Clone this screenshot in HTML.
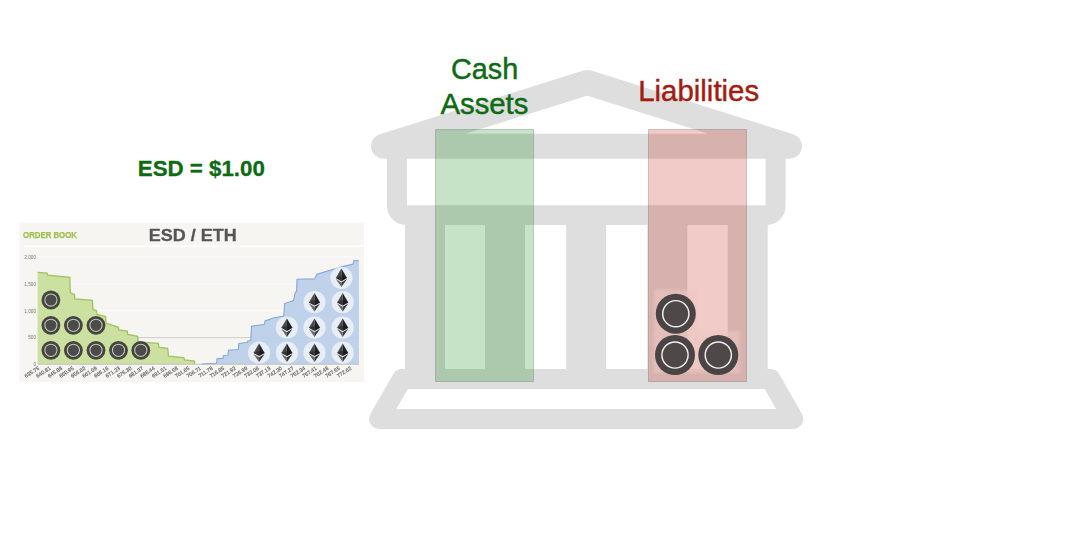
<!DOCTYPE html>
<html>
<head>
<meta charset="utf-8">
<title>ESD balance sheet</title>
<style>html,body{margin:0;padding:0;background:#fff;width:1080px;height:548px;overflow:hidden;font-family:"Liberation Sans",sans-serif}</style>
</head>
<body>
<svg width="1080" height="548" viewBox="0 0 1080 548" style="display:block;position:absolute;left:0;top:0">
<rect width="1080" height="548" fill="#ffffff"/>
<g fill="none" stroke="#dedede" stroke-linejoin="round" stroke-linecap="round">
<path d="M383.5,146.2 L587.3,82.5 L789.5,146.2 Z" stroke-width="25"/>
<path d="M387,150 L387,206 A19,19 0 0 0 406,225 L766.6,225 A19,19 0 0 0 785.6,206 L785.6,150 Z M407,150 L407,205.2 L765.6,205.2 L765.6,150 Z" fill="#dedede" fill-rule="evenodd" stroke="none"/>
<path d="M402,379 L770.5,379 L793.3,419 L379,419 Z" stroke-width="20"/>
</g>
<rect x="405" y="224" width="40" height="146" fill="#dedede"/>
<rect x="485" y="224" width="40" height="146" fill="#dedede"/>
<rect x="566.2" y="224" width="40" height="146" fill="#dedede"/>
<rect x="647.3" y="224" width="40" height="146" fill="#dedede"/>
<rect x="727.7" y="224" width="40" height="146" fill="#dedede"/>
<rect x="435.5" y="129.5" width="98" height="252" fill="rgb(0,128,0)" fill-opacity="0.22" stroke="#404040" stroke-opacity="0.24" stroke-width="1"/>
<rect x="648.5" y="129.5" width="98" height="252" fill="rgb(192,32,16)" fill-opacity="0.23" stroke="#404040" stroke-opacity="0.24" stroke-width="1"/>
<g filter="url(#halo)"><rect x="654.3" y="289.7" width="43" height="42" fill="#efc6c2" fill-opacity="0.6"/><rect x="653.5" y="331" width="43" height="42" fill="#efc6c2" fill-opacity="0.6"/><rect x="696.8" y="331" width="43" height="42" fill="#efc6c2" fill-opacity="0.6"/></g>
<circle cx="675.8" cy="313.7" r="20" fill="#4a4445"/><circle cx="675.8" cy="313.7" r="13.1" fill="#4e4849" stroke="#f4f0f0" stroke-width="1.45"/>
<circle cx="675" cy="355" r="20" fill="#4a4445"/><circle cx="675" cy="355" r="13.1" fill="#4e4849" stroke="#f4f0f0" stroke-width="1.45"/>
<circle cx="718.3" cy="355" r="20" fill="#4a4445"/><circle cx="718.3" cy="355" r="13.1" fill="#4e4849" stroke="#f4f0f0" stroke-width="1.45"/>
<g font-family="'Liberation Sans', sans-serif">
<text x="484.6" y="79.3" font-size="28.8" fill="#0d6b13" stroke="#0d6b13" stroke-width="0.45" text-anchor="middle">Cash</text>
<text x="484.4" y="114.2" font-size="29.3" fill="#0d6b13" stroke="#0d6b13" stroke-width="0.45" text-anchor="middle">Assets</text>
<text x="698.7" y="100.6" font-size="29.4" fill="#a21d0f" stroke="#a21d0f" stroke-width="0.45" text-anchor="middle">Liabilities</text>
<text x="201.3" y="175.5" font-size="22.3" font-weight="bold" fill="#0d6b13" stroke="#0d6b13" stroke-width="0.3" text-anchor="middle">ESD = $1.00</text>
</g>
<g id="chart" filter="url(#soft)">
<rect x="19.3" y="222.4" width="344.7" height="159.6" fill="#f6f5f2"/>
<rect x="24" y="245.4" width="340" height="1.7" fill="#fdfdfb"/>
<line x1="38" y1="257" x2="359" y2="257" stroke="#fcfcfa" stroke-width="1.2"/>
<line x1="38" y1="284" x2="359" y2="284" stroke="#fcfcfa" stroke-width="1.2"/>
<line x1="38" y1="310.6" x2="359" y2="310.6" stroke="#fcfcfa" stroke-width="1.2"/>
<line x1="38" y1="337.6" x2="359" y2="337.6" stroke="#c3c3c0" stroke-width="0.8"/>
<polygon points="37.6,364 37.6,272.4 47,273.2 47.6,275.2 69.8,277.3 70.3,292.8 74.5,294.4 74.8,298.8 92.3,300.4 93,309.6 96.5,310.6 97,314.5 105.6,316.6 106,323 118.5,327.3 119,330 127.3,331 127.7,334.5 137.7,336.3 138.2,342 158.3,343.4 159,347.3 167.7,348.4 168.5,356.2 183.8,357.5 184.6,360 194.3,361.2 194.8,364" fill="#cbe0a1"/>
<polyline points="37.6,272.4 47,273.2 47.6,275.2 69.8,277.3 70.3,292.8 74.5,294.4 74.8,298.8 92.3,300.4 93,309.6 96.5,310.6 97,314.5 105.6,316.6 106,323 118.5,327.3 119,330 127.3,331 127.7,334.5 137.7,336.3 138.2,342 158.3,343.4 159,347.3 167.7,348.4 168.5,356.2 183.8,357.5 184.6,360 194.3,361.2 194.8,364" fill="none" stroke="#a0c35a" stroke-width="1.3"/>
<polygon points="201.5,364 216.6,363.2 217,358.8 223,358.4 223.4,355.5 228,355.2 228.4,350.3 238.4,349.6 238.8,343.4 247.4,342.6 247.7,340.9 250.8,340.6 251.5,326.3 264.5,324.3 265,321 273.2,318 283.8,316 284.6,303.6 293.5,300.5 295.3,292.3 296.6,291.5 297,279.2 314.6,278.9 316.9,274.2 332.4,269.6 343.4,266.4 353.2,264 353.8,260.8 359,260.7 359,364" fill="#bacfe9" fill-opacity="0.93"/>
<polyline points="201.5,364 216.6,363.2 217,358.8 223,358.4 223.4,355.5 228,355.2 228.4,350.3 238.4,349.6 238.8,343.4 247.4,342.6 247.7,340.9 250.8,340.6 251.5,326.3 264.5,324.3 265,321 273.2,318 283.8,316 284.6,303.6 293.5,300.5 295.3,292.3 296.6,291.5 297,279.2 314.6,278.9 316.9,274.2 332.4,269.6 343.4,266.4 353.2,264 353.8,260.8 359,260.7" fill="none" stroke="#86a8d6" stroke-width="1.1"/>
<line x1="38" y1="364.3" x2="359" y2="364.3" stroke="#b9b9b4" stroke-width="0.8"/>
<g font-family="'Liberation Sans', sans-serif">
<text x="23.1" y="237.8" font-size="8.3" font-weight="bold" fill="#9cc04f" stroke="#9cc04f" stroke-width="0.25" textLength="53.8" lengthAdjust="spacingAndGlyphs">ORDER BOOK</text>
<text x="148.8" y="240.6" font-size="16.8" font-weight="bold" fill="#555555" stroke="#555555" stroke-width="0.3" textLength="88" lengthAdjust="spacingAndGlyphs">ESD / ETH</text>
<text x="36" y="258.6" font-size="4.7" fill="#707070" text-anchor="end">2,000</text>
<text x="36" y="285.6" font-size="4.7" fill="#707070" text-anchor="end">1,500</text>
<text x="36" y="312.6" font-size="4.7" fill="#707070" text-anchor="end">1,000</text>
<text x="36" y="339.1" font-size="4.7" fill="#707070" text-anchor="end">500</text>
<text x="36" y="365.6" font-size="4.7" fill="#707070" text-anchor="end">0</text>
<text transform="translate(39.60,369.2) rotate(-33)" font-size="5.3" fill="#666666" stroke="#666666" stroke-width="0.18" text-anchor="end">635.75</text>
<text transform="translate(51.17,369.2) rotate(-33)" font-size="5.3" fill="#666666" stroke="#666666" stroke-width="0.18" text-anchor="end">640.81</text>
<text transform="translate(62.74,369.2) rotate(-33)" font-size="5.3" fill="#666666" stroke="#666666" stroke-width="0.18" text-anchor="end">645.88</text>
<text transform="translate(74.31,369.2) rotate(-33)" font-size="5.3" fill="#666666" stroke="#666666" stroke-width="0.18" text-anchor="end">650.95</text>
<text transform="translate(85.88,369.2) rotate(-33)" font-size="5.3" fill="#666666" stroke="#666666" stroke-width="0.18" text-anchor="end">656.02</text>
<text transform="translate(97.45,369.2) rotate(-33)" font-size="5.3" fill="#666666" stroke="#666666" stroke-width="0.18" text-anchor="end">661.09</text>
<text transform="translate(109.02,369.2) rotate(-33)" font-size="5.3" fill="#666666" stroke="#666666" stroke-width="0.18" text-anchor="end">666.16</text>
<text transform="translate(120.59,369.2) rotate(-33)" font-size="5.3" fill="#666666" stroke="#666666" stroke-width="0.18" text-anchor="end">671.23</text>
<text transform="translate(132.16,369.2) rotate(-33)" font-size="5.3" fill="#666666" stroke="#666666" stroke-width="0.18" text-anchor="end">676.30</text>
<text transform="translate(143.73,369.2) rotate(-33)" font-size="5.3" fill="#666666" stroke="#666666" stroke-width="0.18" text-anchor="end">681.37</text>
<text transform="translate(155.30,369.2) rotate(-33)" font-size="5.3" fill="#666666" stroke="#666666" stroke-width="0.18" text-anchor="end">686.44</text>
<text transform="translate(166.87,369.2) rotate(-33)" font-size="5.3" fill="#666666" stroke="#666666" stroke-width="0.18" text-anchor="end">691.51</text>
<text transform="translate(178.44,369.2) rotate(-33)" font-size="5.3" fill="#666666" stroke="#666666" stroke-width="0.18" text-anchor="end">696.58</text>
<text transform="translate(190.01,369.2) rotate(-33)" font-size="5.3" fill="#666666" stroke="#666666" stroke-width="0.18" text-anchor="end">701.65</text>
<text transform="translate(201.58,369.2) rotate(-33)" font-size="5.3" fill="#666666" stroke="#666666" stroke-width="0.18" text-anchor="end">706.71</text>
<text transform="translate(213.15,369.2) rotate(-33)" font-size="5.3" fill="#666666" stroke="#666666" stroke-width="0.18" text-anchor="end">711.78</text>
<text transform="translate(224.72,369.2) rotate(-33)" font-size="5.3" fill="#666666" stroke="#666666" stroke-width="0.18" text-anchor="end">716.85</text>
<text transform="translate(236.29,369.2) rotate(-33)" font-size="5.3" fill="#666666" stroke="#666666" stroke-width="0.18" text-anchor="end">721.92</text>
<text transform="translate(247.86,369.2) rotate(-33)" font-size="5.3" fill="#666666" stroke="#666666" stroke-width="0.18" text-anchor="end">726.99</text>
<text transform="translate(259.43,369.2) rotate(-33)" font-size="5.3" fill="#666666" stroke="#666666" stroke-width="0.18" text-anchor="end">732.06</text>
<text transform="translate(271.00,369.2) rotate(-33)" font-size="5.3" fill="#666666" stroke="#666666" stroke-width="0.18" text-anchor="end">737.13</text>
<text transform="translate(282.57,369.2) rotate(-33)" font-size="5.3" fill="#666666" stroke="#666666" stroke-width="0.18" text-anchor="end">742.20</text>
<text transform="translate(294.14,369.2) rotate(-33)" font-size="5.3" fill="#666666" stroke="#666666" stroke-width="0.18" text-anchor="end">747.27</text>
<text transform="translate(305.71,369.2) rotate(-33)" font-size="5.3" fill="#666666" stroke="#666666" stroke-width="0.18" text-anchor="end">752.34</text>
<text transform="translate(317.28,369.2) rotate(-33)" font-size="5.3" fill="#666666" stroke="#666666" stroke-width="0.18" text-anchor="end">757.41</text>
<text transform="translate(328.85,369.2) rotate(-33)" font-size="5.3" fill="#666666" stroke="#666666" stroke-width="0.18" text-anchor="end">762.48</text>
<text transform="translate(340.42,369.2) rotate(-33)" font-size="5.3" fill="#666666" stroke="#666666" stroke-width="0.18" text-anchor="end">767.55</text>
<text transform="translate(351.99,369.2) rotate(-33)" font-size="5.3" fill="#666666" stroke="#666666" stroke-width="0.18" text-anchor="end">772.62</text>
</g>
<circle cx="50.9" cy="300" r="9.4" fill="#44443e"/><circle cx="50.9" cy="300" r="6.1" fill="#4c4c48" stroke="#c4c4c4" stroke-width="1.05"/>
<circle cx="50.9" cy="325.3" r="9.4" fill="#44443e"/><circle cx="50.9" cy="325.3" r="6.1" fill="#4c4c48" stroke="#c4c4c4" stroke-width="1.05"/>
<circle cx="73.4" cy="325.3" r="9.4" fill="#44443e"/><circle cx="73.4" cy="325.3" r="6.1" fill="#4c4c48" stroke="#c4c4c4" stroke-width="1.05"/>
<circle cx="96" cy="325.3" r="9.4" fill="#44443e"/><circle cx="96" cy="325.3" r="6.1" fill="#4c4c48" stroke="#c4c4c4" stroke-width="1.05"/>
<circle cx="50.9" cy="350.3" r="9.4" fill="#44443e"/><circle cx="50.9" cy="350.3" r="6.1" fill="#4c4c48" stroke="#c4c4c4" stroke-width="1.05"/>
<circle cx="73.4" cy="350.3" r="9.4" fill="#44443e"/><circle cx="73.4" cy="350.3" r="6.1" fill="#4c4c48" stroke="#c4c4c4" stroke-width="1.05"/>
<circle cx="96" cy="350.3" r="9.4" fill="#44443e"/><circle cx="96" cy="350.3" r="6.1" fill="#4c4c48" stroke="#c4c4c4" stroke-width="1.05"/>
<circle cx="118.5" cy="350.3" r="9.4" fill="#44443e"/><circle cx="118.5" cy="350.3" r="6.1" fill="#4c4c48" stroke="#c4c4c4" stroke-width="1.05"/>
<circle cx="140.8" cy="350.3" r="9.4" fill="#44443e"/><circle cx="140.8" cy="350.3" r="6.1" fill="#4c4c48" stroke="#c4c4c4" stroke-width="1.05"/>
<g transform="translate(341.4,277.8)"><circle r="11.1" fill="#ffffff" fill-opacity="0.62"/><path d="M0,-9.2 L-5.6,0.2 L0,3.4 Z" fill="#4a4a4a"/><path d="M0,-9.2 L5.6,0.2 L0,3.4 Z" fill="#232323"/><path d="M0,-2.2 L-5.6,0.2 L0,3.4 L5.6,0.2 Z" fill="#111" fill-opacity="0.4"/><path d="M-5.6,1.2 L0,4.6 L0,9.3 Z" fill="#666666"/><path d="M5.6,1.2 L0,4.6 L0,9.3 Z" fill="#383838"/></g>
<g transform="translate(314.5,302.2)"><circle r="11.1" fill="#ffffff" fill-opacity="0.62"/><path d="M0,-9.2 L-5.6,0.2 L0,3.4 Z" fill="#4a4a4a"/><path d="M0,-9.2 L5.6,0.2 L0,3.4 Z" fill="#232323"/><path d="M0,-2.2 L-5.6,0.2 L0,3.4 L5.6,0.2 Z" fill="#111" fill-opacity="0.4"/><path d="M-5.6,1.2 L0,4.6 L0,9.3 Z" fill="#666666"/><path d="M5.6,1.2 L0,4.6 L0,9.3 Z" fill="#383838"/></g>
<g transform="translate(342.7,302.2)"><circle r="11.1" fill="#ffffff" fill-opacity="0.62"/><path d="M0,-9.2 L-5.6,0.2 L0,3.4 Z" fill="#4a4a4a"/><path d="M0,-9.2 L5.6,0.2 L0,3.4 Z" fill="#232323"/><path d="M0,-2.2 L-5.6,0.2 L0,3.4 L5.6,0.2 Z" fill="#111" fill-opacity="0.4"/><path d="M-5.6,1.2 L0,4.6 L0,9.3 Z" fill="#666666"/><path d="M5.6,1.2 L0,4.6 L0,9.3 Z" fill="#383838"/></g>
<g transform="translate(286.9,327.6)"><circle r="11.1" fill="#ffffff" fill-opacity="0.62"/><path d="M0,-9.2 L-5.6,0.2 L0,3.4 Z" fill="#4a4a4a"/><path d="M0,-9.2 L5.6,0.2 L0,3.4 Z" fill="#232323"/><path d="M0,-2.2 L-5.6,0.2 L0,3.4 L5.6,0.2 Z" fill="#111" fill-opacity="0.4"/><path d="M-5.6,1.2 L0,4.6 L0,9.3 Z" fill="#666666"/><path d="M5.6,1.2 L0,4.6 L0,9.3 Z" fill="#383838"/></g>
<g transform="translate(314.5,327.6)"><circle r="11.1" fill="#ffffff" fill-opacity="0.62"/><path d="M0,-9.2 L-5.6,0.2 L0,3.4 Z" fill="#4a4a4a"/><path d="M0,-9.2 L5.6,0.2 L0,3.4 Z" fill="#232323"/><path d="M0,-2.2 L-5.6,0.2 L0,3.4 L5.6,0.2 Z" fill="#111" fill-opacity="0.4"/><path d="M-5.6,1.2 L0,4.6 L0,9.3 Z" fill="#666666"/><path d="M5.6,1.2 L0,4.6 L0,9.3 Z" fill="#383838"/></g>
<g transform="translate(342.7,327.6)"><circle r="11.1" fill="#ffffff" fill-opacity="0.62"/><path d="M0,-9.2 L-5.6,0.2 L0,3.4 Z" fill="#4a4a4a"/><path d="M0,-9.2 L5.6,0.2 L0,3.4 Z" fill="#232323"/><path d="M0,-2.2 L-5.6,0.2 L0,3.4 L5.6,0.2 Z" fill="#111" fill-opacity="0.4"/><path d="M-5.6,1.2 L0,4.6 L0,9.3 Z" fill="#666666"/><path d="M5.6,1.2 L0,4.6 L0,9.3 Z" fill="#383838"/></g>
<g transform="translate(259.1,352.7)"><circle r="11.1" fill="#ffffff" fill-opacity="0.62"/><path d="M0,-9.2 L-5.6,0.2 L0,3.4 Z" fill="#4a4a4a"/><path d="M0,-9.2 L5.6,0.2 L0,3.4 Z" fill="#232323"/><path d="M0,-2.2 L-5.6,0.2 L0,3.4 L5.6,0.2 Z" fill="#111" fill-opacity="0.4"/><path d="M-5.6,1.2 L0,4.6 L0,9.3 Z" fill="#666666"/><path d="M5.6,1.2 L0,4.6 L0,9.3 Z" fill="#383838"/></g>
<g transform="translate(286.9,352.7)"><circle r="11.1" fill="#ffffff" fill-opacity="0.62"/><path d="M0,-9.2 L-5.6,0.2 L0,3.4 Z" fill="#4a4a4a"/><path d="M0,-9.2 L5.6,0.2 L0,3.4 Z" fill="#232323"/><path d="M0,-2.2 L-5.6,0.2 L0,3.4 L5.6,0.2 Z" fill="#111" fill-opacity="0.4"/><path d="M-5.6,1.2 L0,4.6 L0,9.3 Z" fill="#666666"/><path d="M5.6,1.2 L0,4.6 L0,9.3 Z" fill="#383838"/></g>
<g transform="translate(314.5,352.7)"><circle r="11.1" fill="#ffffff" fill-opacity="0.62"/><path d="M0,-9.2 L-5.6,0.2 L0,3.4 Z" fill="#4a4a4a"/><path d="M0,-9.2 L5.6,0.2 L0,3.4 Z" fill="#232323"/><path d="M0,-2.2 L-5.6,0.2 L0,3.4 L5.6,0.2 Z" fill="#111" fill-opacity="0.4"/><path d="M-5.6,1.2 L0,4.6 L0,9.3 Z" fill="#666666"/><path d="M5.6,1.2 L0,4.6 L0,9.3 Z" fill="#383838"/></g>
<g transform="translate(342.7,352.7)"><circle r="11.1" fill="#ffffff" fill-opacity="0.62"/><path d="M0,-9.2 L-5.6,0.2 L0,3.4 Z" fill="#4a4a4a"/><path d="M0,-9.2 L5.6,0.2 L0,3.4 Z" fill="#232323"/><path d="M0,-2.2 L-5.6,0.2 L0,3.4 L5.6,0.2 Z" fill="#111" fill-opacity="0.4"/><path d="M-5.6,1.2 L0,4.6 L0,9.3 Z" fill="#666666"/><path d="M5.6,1.2 L0,4.6 L0,9.3 Z" fill="#383838"/></g>
</g>
<defs><filter id="halo" x="-20%" y="-20%" width="140%" height="140%"><feGaussianBlur stdDeviation="1.6"/></filter><filter id="soft" x="-5%" y="-5%" width="110%" height="110%"><feGaussianBlur stdDeviation="0.45"/></filter></defs>
</svg>
</body>
</html>
